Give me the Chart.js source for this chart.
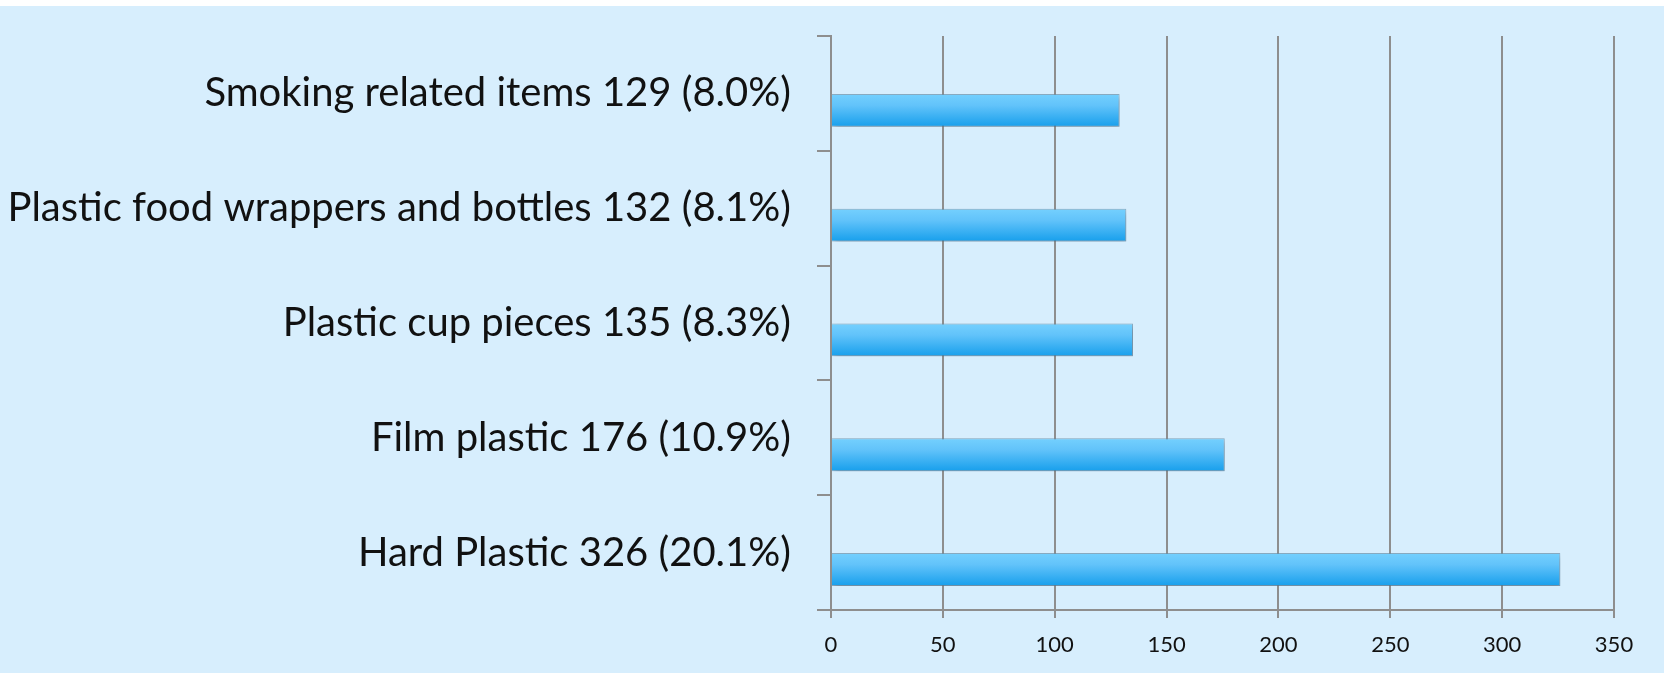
<!DOCTYPE html>
<html>
<head>
<meta charset="utf-8">
<script src="https://cdn.jsdelivr.net/npm/chart.js@4"></script>
<style>
  html, body { margin: 0; padding: 0; background: #fff; }
  #wrap { width: 1664px; height: 673px; }
</style>
</head>
<body>
<div id="wrap"><canvas id="litterChart" width="1664" height="673"></canvas></div>
<script>
// Data (top to bottom as shown)
const itemNames = ['Smoking related items', 'Plastic food wrappers and bottles', 'Plastic cup pieces', 'Film plastic', 'Hard Plastic'];
const itemCounts = [129, 132, 135, 176, 326];
const itemPercents = ['8.0', '8.1', '8.3', '10.9', '20.1'];
const xTicks = [0, 50, 100, 150, 200, 250, 300, 350];

const labels = itemNames.map((n, i) => n + ' ' + itemCounts[i] + ' (' + itemPercents[i] + '%)');

const CAT_PCT = 0.59;
const BAR_PCT = 0.97;
const gridColor = '#8e8e8e';

// per-bar vertical gradient, worked out from the y scale
function barGradient(c) {
    const chart = c.chart;
    const ys = chart.scales.y;
    if (!ys || c.dataIndex === undefined) return '#3ab0f2';
    const center = ys.getPixelForValue(c.dataIndex);
    const band = Math.abs(ys.getPixelForValue(1) - ys.getPixelForValue(0));
    if (!isFinite(center) || !isFinite(band) || band === 0) return '#3ab0f2';
    const slot = band * CAT_PCT / 2;
    const mid = center + slot / 2;
    const h = slot * BAR_PCT;
    const g = chart.ctx.createLinearGradient(0, mid - h / 2, 0, mid + h / 2);
    g.addColorStop(0, '#74d0fe');
    g.addColorStop(0.35, '#62c3fa');
    g.addColorStop(1, '#179fec');
    return g;
}

const bgPlugin = {
    id: 'bg',
    beforeDraw(chart) {
        const ctx = chart.ctx;
        ctx.save();
        ctx.fillStyle = '#ffffff';
        ctx.fillRect(0, 0, chart.width, 6);
        ctx.fillStyle = '#d7eefd';
        ctx.fillRect(0, 6, chart.width, chart.height - 6);
        ctx.restore();
    }
};

const shadowPlugin = {
    id: 'barShadow',
    beforeDatasetsDraw(chart) {
        const ctx = chart.ctx;
        ctx.save();
        ctx.shadowColor = 'rgba(40, 60, 80, 0.35)';
        ctx.shadowBlur = 6;
        ctx.shadowOffsetX = 2;
        ctx.shadowOffsetY = 3;
    },
    afterDatasetsDraw(chart) {
        chart.ctx.restore();
    }
};

const ctx = document.getElementById('litterChart').getContext('2d');
const litterChart = new Chart(ctx, {
    type: 'bar',
    data: {
        labels: labels,
        datasets: [{
            // empty slot so the bar sits in the lower half of each band
            label: 'spacer',
            data: itemCounts.map(() => null),
            backgroundColor: 'rgba(0,0,0,0)',
            categoryPercentage: CAT_PCT,
            barPercentage: BAR_PCT
        }, {
            label: 'Count',
            data: itemCounts,
            backgroundColor: barGradient,
            borderColor: 'rgba(110, 150, 175, 0.7)',
            borderWidth: 1,
            borderSkipped: 'left',
            categoryPercentage: CAT_PCT,
            barPercentage: BAR_PCT
        }]
    },
    options: {
        indexAxis: 'y',
        responsive: false,
        animation: false,
        layout: { padding: { top: 36, right: 50, left: 0, bottom: 0 } },
        plugins: {
            legend: { display: false },
            tooltip: { enabled: false }
        },
        scales: {
            x: {
                min: 0,
                max: 350,
                afterBuildTicks: (scale) => { scale.ticks = xTicks.map(v => ({ value: v })); },
                afterFit: (scale) => { scale.height = 63; },
                grid: { color: gridColor, lineWidth: 2, tickLength: 8 },
                border: { color: gridColor, width: 2 },
                ticks: {
                    color: '#111',
                    padding: 14,
                    font: { family: 'Lato', size: 22 }
                }
            },
            y: {
                afterFit: (scale) => {
                    scale.width = 831;
                    scale.paddingTop = 0;
                    scale.paddingBottom = 0;
                },
                grid: { offset: true, drawOnChartArea: false, color: gridColor, lineWidth: 2, tickLength: 14 },
                border: { color: gridColor, width: 2 },
                ticks: {
                    color: '#111',
                    padding: 26,
                    font: { family: 'Lato', size: 40 }
                }
            }
        }
    },
    plugins: [bgPlugin, shadowPlugin]
});
</script>
</body>
</html>
